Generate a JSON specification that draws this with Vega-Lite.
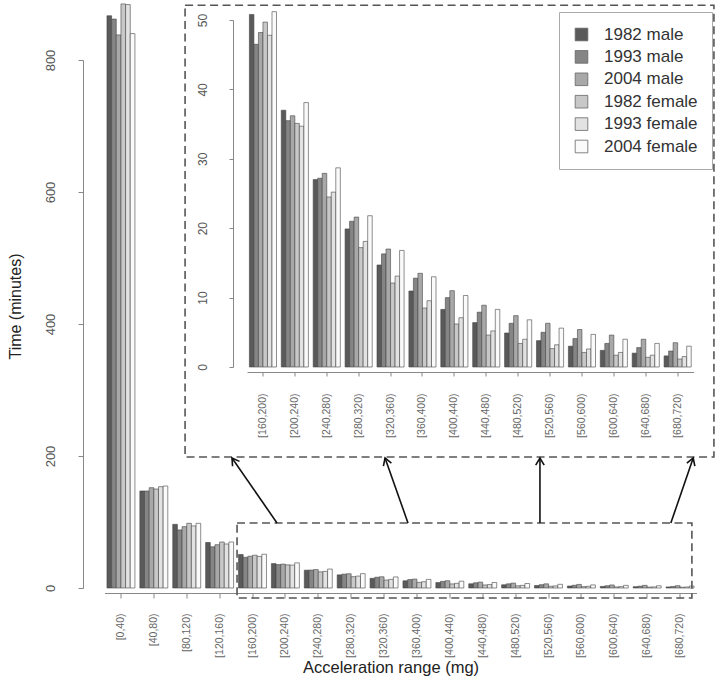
{
  "$schema": "https://vega.github.io/schema/vega-lite/v6.json",
  "width": 592,
  "height": 583,
  "autosize": {"type": "none"},
  "padding": {"left": 104.5, "top": 5, "right": 23.5, "bottom": 94},
  "background": "white",
  "config": {"font": "Liberation Sans", "view": {"stroke": null}, "axis": {"grid": false}},
  "datasets": {
    "bars": [
      {"range": "[0,40)", "1982 male": 867, "1993 male": 862, "2004 male": 838, "1982 female": 885, "1993 female": 884, "2004 female": 840},
      {"range": "[40,80)", "1982 male": 147, "1993 male": 147, "2004 male": 152, "1982 female": 150, "1993 female": 153.5, "2004 female": 154.5},
      {"range": "[80,120)", "1982 male": 96.5, "1993 male": 88, "2004 male": 93, "1982 female": 98, "1993 female": 94, "2004 female": 98},
      {"range": "[120,160)", "1982 male": 69, "1993 male": 62.5, "2004 male": 65.6, "1982 female": 69.7, "1993 female": 66.7, "2004 female": 69.7},
      {"range": "[160,200)", "1982 male": 50.8, "1993 male": 46.5, "2004 male": 48.2, "1982 female": 49.7, "1993 female": 47.8, "2004 female": 51.2},
      {"range": "[200,240)", "1982 male": 37.0, "1993 male": 35.5, "2004 male": 36.2, "1982 female": 35.1, "1993 female": 34.7, "2004 female": 38.1},
      {"range": "[240,280)", "1982 male": 27.0, "1993 male": 27.2, "2004 male": 27.9, "1982 female": 24.5, "1993 female": 25.2, "2004 female": 28.7},
      {"range": "[280,320)", "1982 male": 19.9, "1993 male": 21.0, "2004 male": 21.6, "1982 female": 17.2, "1993 female": 18.1, "2004 female": 21.8},
      {"range": "[320,360)", "1982 male": 14.7, "1993 male": 16.3, "2004 male": 17.0, "1982 female": 12.1, "1993 female": 13.1, "2004 female": 16.8},
      {"range": "[360,400)", "1982 male": 10.95, "1993 male": 12.8, "2004 male": 13.5, "1982 female": 8.5, "1993 female": 9.55, "2004 female": 13.0},
      {"range": "[400,440)", "1982 male": 8.3, "1993 male": 10.0, "2004 male": 11.0, "1982 female": 6.2, "1993 female": 7.1, "2004 female": 10.3},
      {"range": "[440,480)", "1982 male": 6.4, "1993 male": 7.9, "2004 male": 8.9, "1982 female": 4.6, "1993 female": 5.2, "2004 female": 8.3},
      {"range": "[480,520)", "1982 male": 4.9, "1993 male": 6.3, "2004 male": 7.4, "1982 female": 3.4, "1993 female": 4.0, "2004 female": 6.8},
      {"range": "[520,560)", "1982 male": 3.8, "1993 male": 5.0, "2004 male": 6.3, "1982 female": 2.65, "1993 female": 3.2, "2004 female": 5.6},
      {"range": "[560,600)", "1982 male": 3.0, "1993 male": 4.1, "2004 male": 5.4, "1982 female": 2.1, "1993 female": 2.6, "2004 female": 4.7},
      {"range": "[600,640)", "1982 male": 2.4, "1993 male": 3.4, "2004 male": 4.6, "1982 female": 1.7, "1993 female": 2.1, "2004 female": 4.0},
      {"range": "[640,680)", "1982 male": 2.0, "1993 male": 2.8, "2004 male": 4.0, "1982 female": 1.4, "1993 female": 1.7, "2004 female": 3.4},
      {"range": "[680,720)", "1982 male": 1.6, "1993 male": 2.3, "2004 male": 3.5, "1982 female": 1.15, "1993 female": 1.5, "2004 female": 3.0}
    ],
    "boxes": [
      {"x0": 1.95, "x1": 18.03, "y0": 198.5, "y1": 883},
      {"x0": 3.53, "x1": 17.36, "y0": -15.2, "y1": 98.5}
    ],
    "arrows": [
      {"fromX": 4.745, "fromY": 98.5, "toX": 3.377, "toY": 197, "angle": -34.7},
      {"fromX": 8.728, "fromY": 98.5, "toX": 8.03, "toY": 197, "angle": -19.5},
      {"fromX": 12.74, "fromY": 98.5, "toX": 12.74, "toY": 197, "angle": 0},
      {"fromX": 16.72, "fromY": 98.5, "toX": 17.40, "toY": 197, "angle": 19.5}
    ]
  },
  "resolve": {
    "scale": {"x": "independent", "y": "independent", "xOffset": "independent"},
    "axis": {"x": "independent", "y": "independent"}
  },
  "layer": [
    {
      "data": {"name": "bars"},
      "transform": [{"fold": ["1982 male", "1993 male", "2004 male", "1982 female", "1993 female", "2004 female"], "as": ["group", "minutes"]}],
      "mark": {"type": "bar", "stroke": "#444444", "strokeWidth": 0.6},
      "encoding": {
        "x": {
          "field": "range", "type": "nominal",
          "scale": {"domain": ["[0,40)", "[40,80)", "[80,120)", "[120,160)", "[160,200)", "[200,240)", "[240,280)", "[280,320)", "[320,360)", "[360,400)", "[400,440)", "[440,480)", "[480,520)", "[520,560)", "[560,600)", "[600,640)", "[640,680)", "[680,720)"], "paddingInner": 0.15, "paddingOuter": 0.075},
          "axis": {"orient": "bottom", "offset": 5, "tickSize": 5, "domainColor": "#888888", "tickColor": "#888888", "labelAngle": -90, "labelAlign": "right", "labelBaseline": "middle", "labelPadding": 15, "labelFontSize": 10.5, "labelColor": "#666666", "title": "Acceleration range (mg)", "titleFontSize": 16.5, "titleFontWeight": "normal", "titleColor": "#222222", "titleX": 286, "titleY": 74, "titleBaseline": "middle", "titleAlign": "center"}
        },
        "xOffset": {
          "field": "group", "type": "nominal",
          "scale": {"domain": ["1982 male", "1993 male", "2004 male", "1982 female", "1993 female", "2004 female"], "paddingInner": 0, "paddingOuter": 0}
        },
        "y": {
          "field": "minutes", "type": "quantitative",
          "scale": {"domain": [0, 800], "range": [583, 55], "nice": false},
          "axis": {"orient": "left", "offset": 21.5, "values": [0, 200, 400, 600, 800], "domainColor": "#888888", "tickColor": "#888888", "tickSize": 5, "labelAngle": -90, "labelAlign": "center", "labelBaseline": "bottom", "labelPadding": 21, "labelFontSize": 13, "labelColor": "#555555", "title": "Time (minutes)", "titleFontSize": 16, "titleFontWeight": "normal", "titleColor": "#222222", "titleX": -68, "titleY": 301, "titleBaseline": "middle", "titleAlign": "center", "titleAngle": -90}
        },
        "color": {
          "field": "group", "type": "nominal",
          "scale": {"domain": ["1982 male", "1993 male", "2004 male", "1982 female", "1993 female", "2004 female"], "range": ["#5a5a5a", "#858585", "#a8a8a8", "#c8c8c8", "#e2e2e2", "#fafafa"]},
          "legend": {"title": null, "orient": "none", "legendX": 454.5, "legendY": 7, "direction": "vertical", "strokeColor": "#aaaaaa", "fillColor": "white", "padding": 14, "symbolType": "square", "symbolSize": 160, "symbolStrokeColor": "#666666", "symbolStrokeWidth": 0.8, "labelFontSize": 17, "labelColor": "#333333", "labelOffset": 14, "rowPadding": 4.4}
        }
      }
    },
    {
      "layer": [
        {
          "data": {"name": "boxes"},
          "mark": {"type": "rect", "fillOpacity": 0, "stroke": "#555555", "strokeWidth": 1.6, "strokeDash": [8, 4.5]},
          "encoding": {
            "x": {"field": "x0", "type": "quantitative", "scale": {"domain": [-0.5, 17.5], "nice": false, "zero": false}, "axis": null},
            "x2": {"field": "x1"},
            "y": {"field": "y0", "type": "quantitative", "scale": {"domain": [0, 800], "range": [583, 55], "nice": false, "zero": false}, "axis": null},
            "y2": {"field": "y1"}
          }
        },
        {
          "data": {"name": "arrows"},
          "mark": {"type": "rule", "stroke": "#111111", "strokeWidth": 1.6},
          "encoding": {
            "x": {"field": "fromX", "type": "quantitative", "scale": {"domain": [-0.5, 17.5], "nice": false, "zero": false}, "axis": null},
            "x2": {"field": "toX"},
            "y": {"field": "fromY", "type": "quantitative", "scale": {"domain": [0, 800], "range": [583, 55], "nice": false, "zero": false}, "axis": null},
            "y2": {"field": "toY"}
          }
        },
        {
          "data": {"name": "arrows"},
          "mark": {"type": "point", "shape": "M -0.6 1 L 0 0 L 0.6 1", "filled": false, "stroke": "#111111", "strokeWidth": 1.6, "size": 200, "opacity": 1},
          "encoding": {
            "x": {"field": "toX", "type": "quantitative", "scale": {"domain": [-0.5, 17.5], "nice": false, "zero": false}, "axis": null},
            "y": {"field": "toY", "type": "quantitative", "scale": {"domain": [0, 800], "range": [583, 55], "nice": false, "zero": false}, "axis": null},
            "angle": {"field": "angle", "type": "quantitative", "scale": null}
          }
        }
      ]
    },
    {
      "data": {"name": "bars"},
      "transform": [
        {"filter": {"field": "range", "oneOf": ["[160,200)", "[200,240)", "[240,280)", "[280,320)", "[320,360)", "[360,400)", "[400,440)", "[440,480)", "[480,520)", "[520,560)", "[560,600)", "[600,640)", "[640,680)", "[680,720)"]}},
        {"fold": ["1982 male", "1993 male", "2004 male", "1982 female", "1993 female", "2004 female"], "as": ["group", "minutes"]}
      ],
      "mark": {"type": "bar", "stroke": "#444444", "strokeWidth": 0.6},
      "encoding": {
        "x": {
          "field": "range", "type": "nominal",
          "scale": {"domain": ["[160,200)", "[200,240)", "[240,280)", "[280,320)", "[320,360)", "[360,400)", "[400,440)", "[440,480)", "[480,520)", "[520,560)", "[560,600)", "[600,640)", "[640,680)", "[680,720)"], "range": [142.5, 589.1], "paddingInner": 0.15, "paddingOuter": 0.075},
          "axis": {"orient": "bottom", "offset": -216, "tickSize": 4, "domainColor": "#888888", "tickColor": "#888888", "labelAngle": -90, "labelAlign": "right", "labelBaseline": "middle", "labelPadding": 17, "labelFontSize": 10.5, "labelColor": "#666666", "title": null}
        },
        "xOffset": {
          "field": "group", "type": "nominal",
          "scale": {"domain": ["1982 male", "1993 male", "2004 male", "1982 female", "1993 female", "2004 female"], "paddingInner": 0, "paddingOuter": 0}
        },
        "y": {
          "field": "minutes", "type": "quantitative",
          "scale": {"domain": [0, 50], "range": [362, 15], "nice": false},
          "axis": {"orient": "left", "offset": -128.5, "values": [0, 10, 20, 30, 40, 50], "domainColor": "#888888", "tickColor": "#888888", "tickSize": 4, "labelAngle": -90, "labelAlign": "center", "labelBaseline": "bottom", "labelPadding": 20, "labelFontSize": 12, "labelColor": "#555555", "title": null}
        },
        "color": {
          "field": "group", "type": "nominal",
          "scale": {"domain": ["1982 male", "1993 male", "2004 male", "1982 female", "1993 female", "2004 female"], "range": ["#5a5a5a", "#858585", "#a8a8a8", "#c8c8c8", "#e2e2e2", "#fafafa"]},
          "legend": {"title": null, "orient": "none", "legendX": 454.5, "legendY": 7, "direction": "vertical", "strokeColor": "#aaaaaa", "fillColor": "white", "padding": 14, "symbolType": "square", "symbolSize": 160, "symbolStrokeColor": "#666666", "symbolStrokeWidth": 0.8, "labelFontSize": 17, "labelColor": "#333333", "labelOffset": 14, "rowPadding": 4.4}
        }
      }
    }
  ]
}
